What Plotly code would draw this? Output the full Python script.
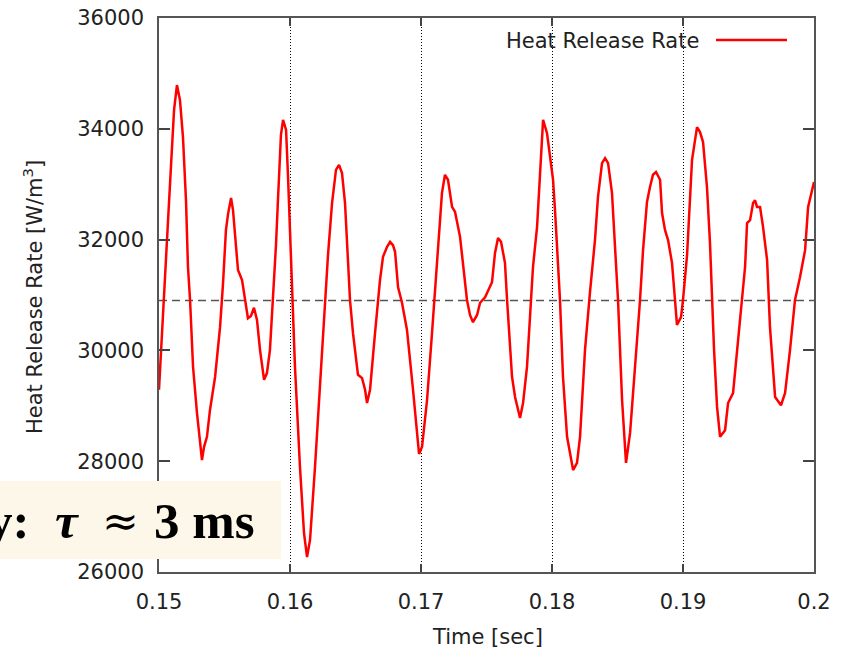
import plotly.graph_objects as go

# ---- data ----
time_ms = [
    150.00, 150.31, 150.61, 150.92, 151.15, 151.37, 151.60, 151.83, 152.06, 152.21,
    152.37, 152.60, 152.90, 153.28, 153.44, 153.66, 153.89, 154.28, 154.66, 154.89,
    155.11, 155.27, 155.50, 155.65, 155.88, 156.03, 156.34, 156.57, 156.79, 157.02,
    157.25, 157.48, 157.71, 158.02, 158.24, 158.47, 158.70, 158.93, 159.08, 159.31,
    159.47, 159.70, 159.85, 160.15, 160.38, 160.76, 161.07, 161.30, 161.53, 161.91,
    162.29, 162.67, 162.90, 163.21, 163.51, 163.74, 163.97, 164.20, 164.58, 164.81,
    165.19, 165.50, 165.73, 165.88, 166.11, 166.49, 166.87, 167.10, 167.41, 167.64,
    167.86, 168.02, 168.25, 168.55, 168.93, 169.39, 169.70, 169.85, 170.08, 170.46,
    170.84, 171.22, 171.60, 171.83, 172.06, 172.37, 172.60, 172.98, 173.21, 173.51,
    173.74, 173.97, 174.28, 174.51, 174.89, 175.12, 175.42, 175.65, 175.88, 176.11,
    176.41, 176.57, 176.95, 177.18, 177.56, 177.79, 178.09, 178.32, 178.55, 178.86,
    179.09, 179.32, 179.62, 179.85, 180.08, 180.23, 180.61, 180.84, 181.15, 181.61,
    181.91, 182.14, 182.52, 182.90, 183.28, 183.51, 183.82, 184.05, 184.28, 184.58,
    184.81, 185.04, 185.35, 185.65, 185.96, 186.34, 186.72, 186.95, 187.25, 187.48,
    187.71, 187.94, 188.25, 188.40, 188.63, 188.86, 189.16, 189.39, 189.54, 189.85,
    190.00, 190.31, 190.69, 191.07, 191.30, 191.53, 191.83, 192.06, 192.22, 192.37,
    192.60, 192.83, 193.21, 193.44, 193.82, 194.12, 194.51, 194.74, 194.89, 195.12,
    195.35, 195.50, 195.65, 195.88, 196.11, 196.42, 196.64, 197.03, 197.48, 197.79,
    198.17, 198.55, 198.93, 199.32, 199.55, 200.00,
]
heat_release = [
    29290, 30550, 31990, 33350, 34340, 34790, 34520, 33850, 32710, 31510,
    30910, 29700, 28870, 28020, 28260, 28440, 28920, 29520, 30420, 31220,
    32170, 32460, 32750, 32530, 31760, 31450, 31270, 30910, 30580, 30620,
    30770, 30550, 30010, 29470, 29590, 30010, 30910, 31900, 32710, 33890,
    34160, 33980, 33130, 31040, 29700, 27900, 26700, 26270, 26580, 27900,
    29410, 30910, 31720, 32660, 33260, 33350, 33200, 32660, 30910, 30310,
    29560, 29500, 29290, 29050, 29290, 30310, 31270, 31690, 31870, 31960,
    31900, 31780, 31140, 30860, 30370, 29290, 28560, 28130, 28260, 29100,
    30310, 31580, 32840, 33170, 33080, 32590, 32500, 32050, 31510, 30910,
    30640, 30510, 30640, 30860, 30960, 31090, 31230, 31760, 32030, 31960,
    31580, 30910, 29520, 29160, 28780, 29050, 29700, 30600, 31510, 32230,
    33260, 34160, 33920, 33490, 33080, 32530, 30910, 29520, 28440, 27840,
    27970, 28440, 30010, 31050, 31990, 32770, 33380, 33470, 33380, 32840,
    31870, 30910, 29100, 27970, 28510, 29700, 30910, 31810, 32680, 32950,
    33170, 33220, 33080, 32480, 32170, 31990, 31580, 30910, 30460, 30600,
    30910, 31720, 33440, 34030, 33940, 33760, 32950, 31940, 30910, 30010,
    28980, 28440, 28560, 29050, 29230, 30010, 30910, 31510, 32300, 32350,
    32660, 32710, 32590, 32590, 32230, 31630, 30420, 29160, 29010, 29230,
    30010, 30910, 31320, 31810, 32590, 33040,
]
mean_hrr = 30900
x_range = [0.15, 0.2]
y_range = [26000, 36000]
x_tickvals = [0.15, 0.16, 0.17, 0.18, 0.19, 0.2]
x_ticktext = ["0.15", "0.16", "0.17", "0.18", "0.19", "0.2"]
y_tickvals = [26000, 28000, 30000, 32000, 34000, 36000]
y_ticktext = ["26000", "28000", "30000", "32000", "34000", "36000"]
series_name = "Heat Release Rate"
box_text_parts = ["y:&nbsp;&nbsp;<i>τ</i>", "≈", "3 ms"]

time_s = [t / 1000.0 for t in time_ms]

# ---- geometry (pixels) ----
W, H = 845, 652
L, R, T, B = 159, 814, 18, 572
pw, ph = R - L, B - T


def px(x):
    return (x - L) / pw


def py(y):
    return (B - y) / ph


FONT = "DejaVu Sans"
fs = 21

fig = go.Figure()
fig.add_trace(go.Scatter(
    x=x_range, y=[mean_hrr, mean_hrr], mode="lines",
    line=dict(color="#555555", width=1.5, dash="8px,5px"),
    hoverinfo="skip", showlegend=False,
))
fig.add_trace(go.Scatter(
    x=time_s, y=heat_release, mode="lines", name=series_name,
    line=dict(color="#ff0000", width=2.5), showlegend=False,
))

axis_common = dict(
    showline=True, linecolor="#555555", linewidth=1.5, mirror="ticks",
    ticks="inside", tickcolor="#444444", tickwidth=1.5,
    tickfont=dict(family=FONT, size=fs, color="#222222"),
    zeroline=False, automargin=False,
)

fig.update_xaxes(
    range=x_range, tickvals=x_tickvals, ticktext=x_ticktext, ticklen=8,
    showgrid=True, gridcolor="#000000", gridwidth=1.2, griddash="1px,2px",
    ticklabelstandoff=10, **axis_common,
)
fig.update_yaxes(
    range=y_range, tickvals=y_tickvals, ticktext=y_ticktext, ticklen=11,
    showgrid=False, ticklabelstandoff=9, **axis_common,
)

box_font = dict(family="Liberation Serif", size=51, color="#000000")
approx_font = dict(family="DejaVu Serif", size=44, color="#000000")
annotations = [
    dict(text="Heat Release Rate [W/m<sup>3</sup>]", textangle=-90,
         x=px(33), y=py(297), xref="paper", yref="paper",
         xanchor="center", yanchor="middle", showarrow=False,
         font=dict(family=FONT, size=fs, color="#222222")),
    dict(text="Time [sec]", x=px(487), y=py(637), xref="paper", yref="paper",
         xanchor="center", yanchor="middle", showarrow=False,
         font=dict(family=FONT, size=fs, color="#222222")),
    dict(text=series_name, x=px(701), y=py(41), xref="paper", yref="paper",
         xanchor="right", yanchor="middle", showarrow=False,
         font=dict(family=FONT, size=fs, color="#222222")),
    dict(text="<b>" + box_text_parts[0] + "</b>", x=px(81), y=py(521),
         xref="paper", yref="paper", xanchor="right", yanchor="middle",
         showarrow=False, font=box_font),
    dict(text=box_text_parts[1], x=px(120), y=py(520),
         xref="paper", yref="paper", xanchor="center", yanchor="middle",
         showarrow=False, font=approx_font),
    dict(text="<b>" + box_text_parts[2] + "</b>", x=px(257), y=py(521),
         xref="paper", yref="paper", xanchor="right", yanchor="middle",
         showarrow=False, font=box_font),
]

shapes = [
    dict(type="line", xref="paper", yref="paper",
         x0=px(716), x1=px(787), y0=py(40), y1=py(40),
         line=dict(color="#ff0000", width=2.5), layer="above"),
    dict(type="rect", xref="paper", yref="paper",
         x0=px(-5), x1=px(281), y0=py(559), y1=py(481),
         fillcolor="#fdf7ea", line=dict(width=0), layer="above"),
]

fig.update_layout(
    width=W, height=H,
    margin=dict(l=L, r=W - R, t=T, b=H - B, pad=0),
    paper_bgcolor="white", plot_bgcolor="white",
    showlegend=False,
    annotations=annotations, shapes=shapes,
)

fig.write_html("out.html")
